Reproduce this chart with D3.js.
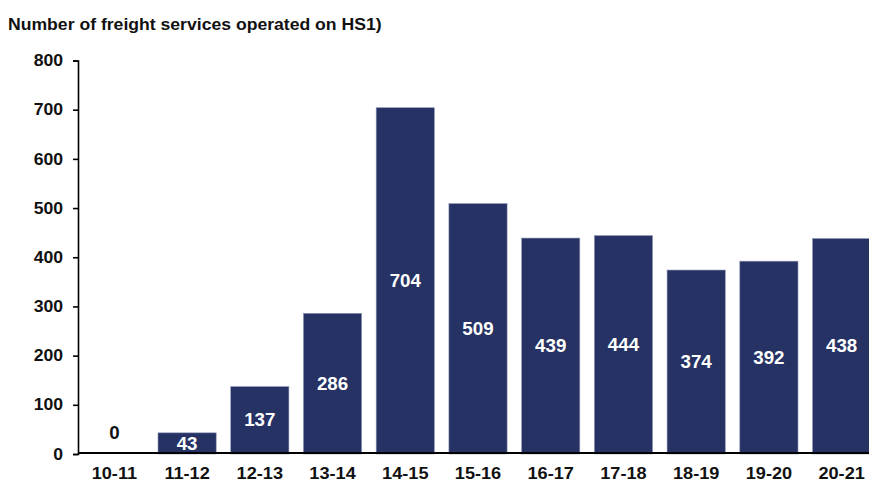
<html>
<head>
<style>
  body { margin: 0; background: #fff; }
  text { font-family: "Liberation Sans", Arial, sans-serif; font-weight: bold; }
</style>
</head>
<body>
<svg id="chart" width="869" height="483"></svg>
<script src="https://cdn.jsdelivr.net/npm/d3@7"></script>
<script>
  // data
  let years = ["10-11", "11-12", "12-13", "13-14", "14-15", "15-16", "16-17", "17-18", "18-19", "19-20", "20-21"]
  let services = [0, 43, 137, 286, 704, 509, 439, 444, 374, 392, 438]
  let yTicks = [0, 100, 200, 300, 400, 500, 600, 700, 800]

  let svg = d3.select("#chart")
  let data = years.map((y, i) => ({ year: y, value: services[i] }))

  // the source text looks slightly stretched sideways
  function widen(sel, k) {
    sel.each(function () {
      let w = this.getComputedTextLength()
      d3.select(this).attr("textLength", w * k).attr("lengthAdjust", "spacingAndGlyphs")
    })
  }

  let x = d3.scaleBand()
    .domain(years)
    .range([78, 878])
    .paddingInner(0.2)
    .paddingOuter(0.1)

  let y = d3.scaleLinear()
    .domain([0, 800])
    .range([454, 60.5])

  // title
  svg.append("text")
    .attr("x", 8)
    .attr("y", 30)
    .attr("font-size", 16)
    .attr("fill", "#111")
    .text("Number of freight services operated on HS1)")
    .call(widen, 1.1)

  // bars
  svg.selectAll(".bar")
    .data(data)
    .enter()
    .append("rect")
    .attr("class", "bar")
    .attr("x", d => x(d.year))
    .attr("y", d => y(d.value))
    .attr("width", x.bandwidth())
    .attr("height", d => y(0) - y(d.value))
    .attr("fill", "#253263")
    .attr("stroke", "#8d94b4")
    .attr("stroke-width", 0.6)

  // value labels, middle of bar (0 sits above the axis in black)
  svg.selectAll(".lbl")
    .data(data)
    .enter()
    .append("text")
    .attr("class", "lbl")
    .attr("x", d => x(d.year) + x.bandwidth() / 2)
    .attr("y", d => d.value > 0 ? (y(d.value) + y(0)) / 2 : y(0) - 21)
    .attr("dy", "0.35em")
    .attr("text-anchor", "middle")
    .attr("font-size", 17.5)
    .attr("fill", d => d.value > 0 ? "#fff" : "#111")
    .text(d => d.value)
    .call(widen, 1.07)

  // y axis
  let yAxis = svg.append("g")
    .attr("transform", "translate(78,0)")
    .call(d3.axisLeft(y).tickValues(yTicks).tickSize(5).tickPadding(10))
  yAxis.select(".domain").attr("stroke", "#000").attr("stroke-width", 1.6)
  yAxis.selectAll(".tick line").attr("stroke", "#000").attr("stroke-width", 1.6)
  yAxis.selectAll("text")
    .attr("font-size", 16)
    .attr("fill", "#111")
    .style("font-family", "Liberation Sans, Arial, sans-serif")
    .style("font-weight", "bold")
    .call(widen, 1.1)

  // x axis
  let xAxis = svg.append("g")
    .attr("transform", "translate(0,453)")
    .call(d3.axisBottom(x).tickSize(0).tickPadding(14))
  xAxis.select(".domain")
    .attr("d", "M78,0H869")
    .attr("stroke", "#000")
    .attr("stroke-width", 2.2)
  xAxis.selectAll("text")
    .attr("font-size", 16.5)
    .attr("fill", "#111")
    .style("font-family", "Liberation Sans, Arial, sans-serif")
    .style("font-weight", "bold")
    .call(widen, 1.1)
</script>
</body>
</html>
